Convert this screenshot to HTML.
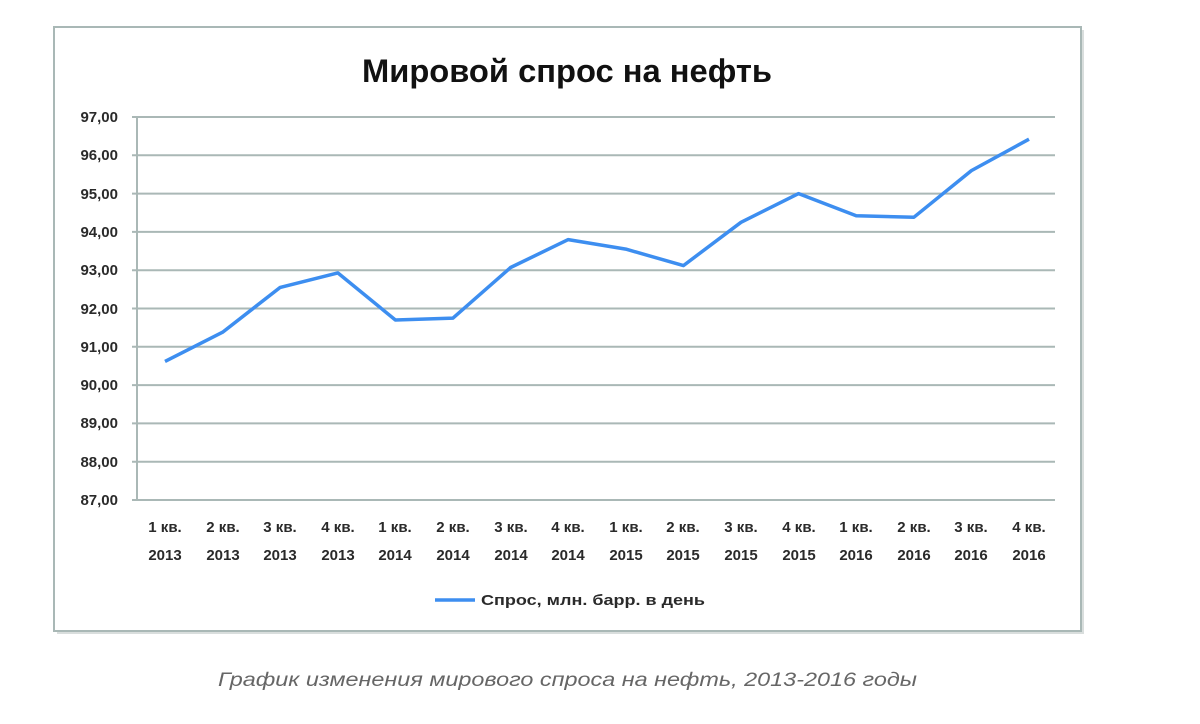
<!DOCTYPE html>
<html><head><meta charset="utf-8"><style>
html,body{margin:0;padding:0;background:#fff;width:1200px;height:724px;overflow:hidden}
</style></head><body>
<svg width="1200" height="724" xmlns="http://www.w3.org/2000/svg" font-family="'Liberation Sans','DejaVu Sans',sans-serif">
<rect x="57" y="30" width="1027" height="604" fill="#c9d0cf" opacity="0.7"/>
<rect x="54" y="27" width="1027" height="604" fill="#fff" stroke="#a9b8b6" stroke-width="2"/>
<text x="567" y="82" text-anchor="middle" font-size="32" font-weight="bold" fill="#111" textLength="410" lengthAdjust="spacingAndGlyphs">Мировой спрос на нефть</text>
<g stroke="#aab8b6" stroke-width="2">
<line x1="132" y1="117" x2="1055" y2="117"/>
<line x1="132" y1="155.3" x2="1055" y2="155.3"/>
<line x1="132" y1="193.6" x2="1055" y2="193.6"/>
<line x1="132" y1="231.9" x2="1055" y2="231.9"/>
<line x1="132" y1="270.2" x2="1055" y2="270.2"/>
<line x1="132" y1="308.5" x2="1055" y2="308.5"/>
<line x1="132" y1="346.8" x2="1055" y2="346.8"/>
<line x1="132" y1="385.1" x2="1055" y2="385.1"/>
<line x1="132" y1="423.4" x2="1055" y2="423.4"/>
<line x1="132" y1="461.7" x2="1055" y2="461.7"/>
<line x1="132" y1="500" x2="1055" y2="500"/>
<line x1="137" y1="117" x2="137" y2="500"/>
</g>
<g font-size="15" font-weight="bold" fill="#2a2a2a" text-anchor="end">
<text x="118" y="122">97,00</text><text x="118" y="160">96,00</text><text x="118" y="199">95,00</text>
<text x="118" y="237">94,00</text><text x="118" y="275">93,00</text><text x="118" y="314">92,00</text>
<text x="118" y="352">91,00</text><text x="118" y="390">90,00</text><text x="118" y="428">89,00</text>
<text x="118" y="467">88,00</text><text x="118" y="505">87,00</text>
</g>
<g font-size="15" font-weight="bold" fill="#2a2a2a" text-anchor="middle">
<text x="165" y="532">1 кв.</text><text x="165" y="560">2013</text>
<text x="223" y="532">2 кв.</text><text x="223" y="560">2013</text>
<text x="280" y="532">3 кв.</text><text x="280" y="560">2013</text>
<text x="338" y="532">4 кв.</text><text x="338" y="560">2013</text>
<text x="395" y="532">1 кв.</text><text x="395" y="560">2014</text>
<text x="453" y="532">2 кв.</text><text x="453" y="560">2014</text>
<text x="511" y="532">3 кв.</text><text x="511" y="560">2014</text>
<text x="568" y="532">4 кв.</text><text x="568" y="560">2014</text>
<text x="626" y="532">1 кв.</text><text x="626" y="560">2015</text>
<text x="683" y="532">2 кв.</text><text x="683" y="560">2015</text>
<text x="741" y="532">3 кв.</text><text x="741" y="560">2015</text>
<text x="799" y="532">4 кв.</text><text x="799" y="560">2015</text>
<text x="856" y="532">1 кв.</text><text x="856" y="560">2016</text>
<text x="914" y="532">2 кв.</text><text x="914" y="560">2016</text>
<text x="971" y="532">3 кв.</text><text x="971" y="560">2016</text>
<text x="1029" y="532">4 кв.</text><text x="1029" y="560">2016</text>
</g>
<polyline fill="none" stroke="#3d8ef0" stroke-width="3.5" stroke-linejoin="round" points="165,361.4 222.6,332.2 280.2,287.4 337.8,272.9 395.4,320 453,318.1 510.6,267.5 568.2,239.6 625.8,249.1 683.4,265.6 741,222.3 798.6,193.6 856.2,215.8 913.8,217.3 971.4,170.6 1029,139.2"/>
<line x1="435" y1="600" x2="475" y2="600" stroke="#3d8ef0" stroke-width="3.5"/>
<text x="481" y="605" font-size="15" font-weight="bold" fill="#2a2a2a" textLength="224" lengthAdjust="spacingAndGlyphs">Спрос, млн. барр. в день</text>
<text x="218" y="686" font-size="19" font-style="italic" fill="#666" textLength="699" lengthAdjust="spacingAndGlyphs">График изменения мирового спроса на нефть, 2013-2016 годы</text>
</svg>
</body></html>
